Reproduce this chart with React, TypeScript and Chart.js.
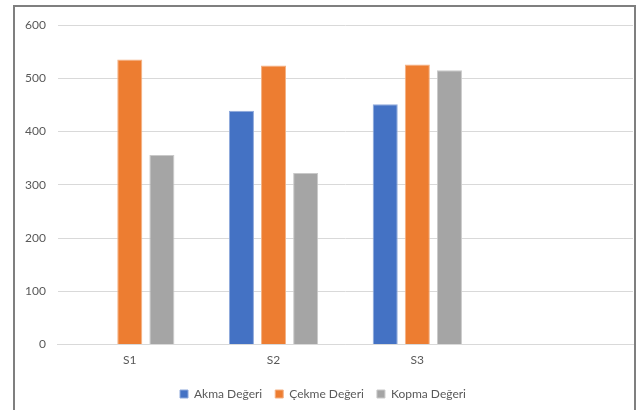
import React, { useEffect, useRef } from "react";
import { Chart, registerables } from "chart.js";

Chart.register(...registerables);

const categories = ["S1", "S2", "S3", ""];
const akma = [null, 439, 451, null];
const cekme = [535, 524, 526, null];
const kopma = [356, 322, 515, null];
const seriesNames = ["Akma Değeri", "Çekme Değeri", "Kopma Değeri"];
const yTicks = [0, 100, 200, 300, 400, 500, 600];

export default function App() {
  const ref = useRef<HTMLCanvasElement | null>(null);

  useEffect(() => {
    document.body.style.margin = "0";
    if (!ref.current) return;
    const common = { categoryPercentage: 0.67, barPercentage: 0.78, borderWidth: 1 };
    const chart = new Chart(ref.current, {
      type: "bar",
      data: {
        labels: categories,
        datasets: [
          { label: seriesNames[0], data: akma, backgroundColor: "#4472C4", borderColor: "#8EA9DB", ...common },
          { label: seriesNames[1], data: cekme, backgroundColor: "#ED7D31", borderColor: "#F4B183", ...common },
          { label: seriesNames[2], data: kopma, backgroundColor: "#A5A5A5", borderColor: "#C9C9C9", ...common },
        ],
      },
      options: {
        animation: false,
        responsive: false,
        maintainAspectRatio: false,
        layout: { padding: { left: 13, right: 10, top: 25, bottom: 0 } },
        plugins: {
          tooltip: { enabled: false },
          legend: {
            position: "bottom",
            labels: {
              boxWidth: 8,
              boxHeight: 8,
              color: "#595959",
              font: { family: "Lato", size: 12 },
              padding: 13,
            },
          },
        },
        scales: {
          x: {
            grid: { display: false, drawTicks: false },
            border: { display: true, color: "#D9D9D9", width: 1 },
            ticks: { color: "#595959", font: { family: "Lato", size: 12 }, padding: 8 },
          },
          y: {
            min: 0,
            max: 600,
            afterBuildTicks: (axis: any) => {
              axis.ticks = yTicks.map((v) => ({ value: v }));
            },
            grid: { color: "#D9D9D9", drawTicks: false },
            border: { display: false },
            ticks: { color: "#595959", font: { family: "Lato", size: 12 }, padding: 12 },
          },
        },
      },
    });
    return () => chart.destroy();
  }, []);

  return (
    <div style={{ position: "fixed", left: 0, top: 0, width: 643, height: 410, background: "#fff", overflow: "hidden" }}>
      <canvas ref={ref} width={643} height={410} style={{ position: "absolute", left: 0, top: 0 }} />
      <div
        style={{
          position: "absolute",
          left: 13,
          top: 5,
          width: 619,
          height: 420,
          border: "2px solid #7F7F7F",
          boxSizing: "content-box",
          pointerEvents: "none",
        }}
      />
    </div>
  );
}
